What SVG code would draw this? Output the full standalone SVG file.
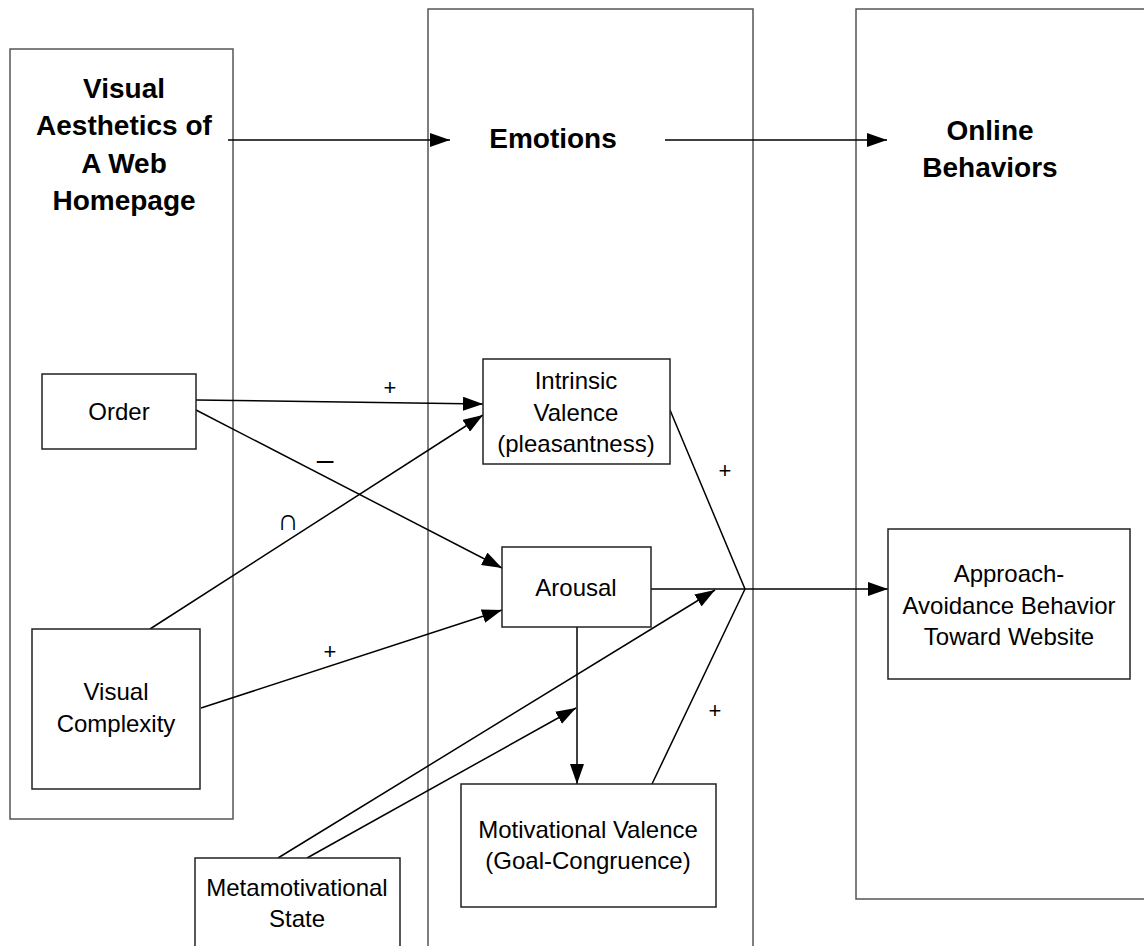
<svg xmlns="http://www.w3.org/2000/svg" width="1144" height="946" viewBox="0 0 1144 946">
<style>
.col{fill:none;stroke:#555;stroke-width:1.5}
.box{fill:#fff;stroke:#222;stroke-width:1.5}
.ln{fill:none;stroke:#000;stroke-width:1.5}
.arr{marker-end:url(#ah)}
.t{font-family:"Liberation Sans",Arial,sans-serif;font-size:24px;fill:#000;text-anchor:middle}
.h{font-family:"Liberation Sans",Arial,sans-serif;font-size:28px;font-weight:bold;fill:#000;text-anchor:middle}
.s{font-family:"Liberation Sans",Arial,sans-serif;font-size:22px;fill:#000;text-anchor:middle}
</style>
<defs>
<marker id="ah" markerUnits="userSpaceOnUse" markerWidth="20" markerHeight="14" refX="20" refY="7" orient="auto">
<path d="M0,0 L20,7 L0,14 z" fill="#000"/>
</marker>
</defs>
<rect width="1144" height="946" fill="#fff"/>
<g id="col-visual">
<rect class="col" x="10" y="49" width="223" height="770"/>
<text class="h" x="124"><tspan x="124" y="98">Visual</tspan><tspan x="124" y="135">Aesthetics of</tspan><tspan x="124" y="173">A Web</tspan><tspan x="124" y="210">Homepage</tspan></text>
</g>
<g id="col-emotions">
<rect class="col" x="428" y="9" width="325" height="960"/>
<text class="h" x="553" y="148">Emotions</text>
</g>
<g id="col-online">
<rect class="col" x="856" y="9" width="300" height="890"/>
<text class="h" x="990"><tspan x="990" y="140">Online</tspan><tspan x="990" y="177">Behaviors</tspan></text>
</g>
<g id="connectors">
<line class="ln arr" x1="228" y1="140" x2="450" y2="140"/>
<line class="ln arr" x1="665" y1="140" x2="887" y2="140"/>
<line class="ln arr" x1="196" y1="400" x2="483" y2="404"/>
<line class="ln arr" x1="196" y1="410" x2="502" y2="568"/>
<line class="ln arr" x1="150" y1="629" x2="483" y2="415"/>
<line class="ln arr" x1="201" y1="708" x2="502" y2="610"/>
<line class="ln arr" x1="577" y1="627" x2="577" y2="784"/>
<polyline class="ln" points="670,410 745,589 652,784"/>
<line class="ln" x1="651" y1="589" x2="745" y2="589"/>
<line class="ln arr" x1="745" y1="589" x2="888" y2="589"/>
<line class="ln arr" x1="278" y1="858" x2="715" y2="590"/>
<line class="ln arr" x1="307" y1="858" x2="576" y2="708"/>
<text class="s" x="390" y="395">+</text>
<text class="s" x="325" y="470" style="font-size:30px">–</text>
<text class="s" x="288" y="530" style="font-size:30px">∩</text>
<text class="s" x="330" y="659">+</text>
<text class="s" x="725" y="478">+</text>
<text class="s" x="715" y="718">+</text>
</g>
<g id="order">
<rect class="box" x="42" y="374" width="154" height="75"/>
<text class="t" x="119" y="420">Order</text>
</g>
<g id="visual-complexity">
<rect class="box" x="32" y="629" width="168" height="160"/>
<text class="t"><tspan x="116" y="700">Visual</tspan><tspan x="116" y="732">Complexity</tspan></text>
</g>
<g id="intrinsic-valence">
<rect class="box" x="483" y="359" width="187" height="105"/>
<text class="t"><tspan x="576" y="389">Intrinsic</tspan><tspan x="576" y="421">Valence</tspan><tspan x="576" y="452">(pleasantness)</tspan></text>
</g>
<g id="arousal">
<rect class="box" x="502" y="547" width="149" height="80"/>
<text class="t" x="576" y="596">Arousal</text>
</g>
<g id="motivational-valence">
<rect class="box" x="461" y="784" width="255" height="123"/>
<text class="t"><tspan x="588" y="838">Motivational Valence</tspan><tspan x="588" y="869">(Goal-Congruence)</tspan></text>
</g>
<g id="metamotivational-state">
<rect class="box" x="195" y="858" width="205" height="100"/>
<text class="t"><tspan x="297" y="896">Metamotivational</tspan><tspan x="297" y="927">State</tspan></text>
</g>
<g id="approach-avoidance">
<rect class="box" x="888" y="529" width="242" height="150"/>
<text class="t"><tspan x="1009" y="582">Approach-</tspan><tspan x="1009" y="614">Avoidance Behavior</tspan><tspan x="1009" y="645">Toward Website</tspan></text>
</g>
</svg>
